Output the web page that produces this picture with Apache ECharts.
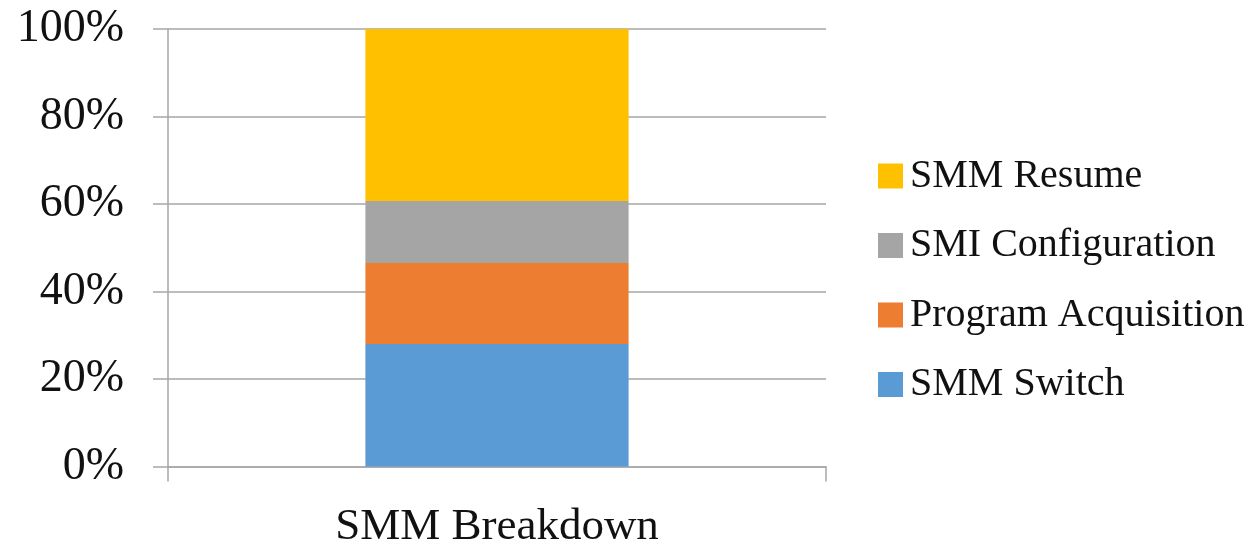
<!DOCTYPE html>
<html>
<head>
<meta charset="utf-8">
<script src="https://cdn.jsdelivr.net/npm/echarts@6/dist/echarts.min.js"></script>
<style>
  html, body { margin: 0; padding: 0; background: #fff; }
  #chart { width: 1256px; height: 544px; }
</style>
</head>
<body>
<div id="chart"></div>
<script>
// Share of SMM handling time, stacked to 100%
const categories = ['SMM Breakdown'];
const seriesNames = ['SMM Switch', 'Program Acquisition', 'SMI Configuration', 'SMM Resume'];
const smmSwitch = [28.0];
const programAcquisition = [18.5];
const smiConfiguration = [14.2];
const smmResume = [39.3];
const seriesColors = ['#5B9BD5', '#ED7D31', '#A5A5A5', '#FFC000'];

const values = [smmSwitch, programAcquisition, smiConfiguration, smmResume];
const fontFamily = '"Liberation Serif", "DejaVu Serif", serif';
const axisGray = '#a6a6a6';

const chart = echarts.init(document.getElementById('chart'));
chart.setOption({
  animation: false,
  grid: { left: 168, right: 430, top: 29, bottom: 77.5, containLabel: false, outerBoundsMode: 'none' },
  legend: {
    orient: 'vertical',
    left: 873,
    top: 151,
    itemWidth: 25,
    itemHeight: 25,
    itemGap: 29.5,
    icon: 'rect',
    data: seriesNames.slice().reverse(),
    textStyle: { fontFamily, fontSize: 40, color: '#111', padding: [0, 0, 0, 2] }
  },
  xAxis: {
    type: 'category',
    data: categories,
    boundaryGap: true,
    axisLine: { show: true, lineStyle: { color: axisGray, width: 1.5 } },
    axisTick: { show: true, length: 15, interval: 0, lineStyle: { color: axisGray, width: 1.5 } },
    axisLabel: { fontFamily, fontSize: 45, color: '#111', margin: 38 }
  },
  yAxis: {
    type: 'value',
    min: 0,
    max: 100,
    interval: 20,
    axisLine: { show: true, lineStyle: { color: axisGray, width: 1.5 } },
    axisTick: { show: true, length: 15, lineStyle: { color: axisGray, width: 1.5 } },
    splitLine: { show: true, lineStyle: { color: axisGray, width: 1.5 } },
    axisLabel: { fontFamily, fontSize: 46, color: '#111', margin: 44, formatter: '{value}%' }
  },
  series: seriesNames.map((name, i) => ({
    name,
    type: 'bar',
    stack: 'total',
    barWidth: '40%',
    data: values[i],
    itemStyle: { color: seriesColors[i] }
  }))
});
</script>
</body>
</html>
